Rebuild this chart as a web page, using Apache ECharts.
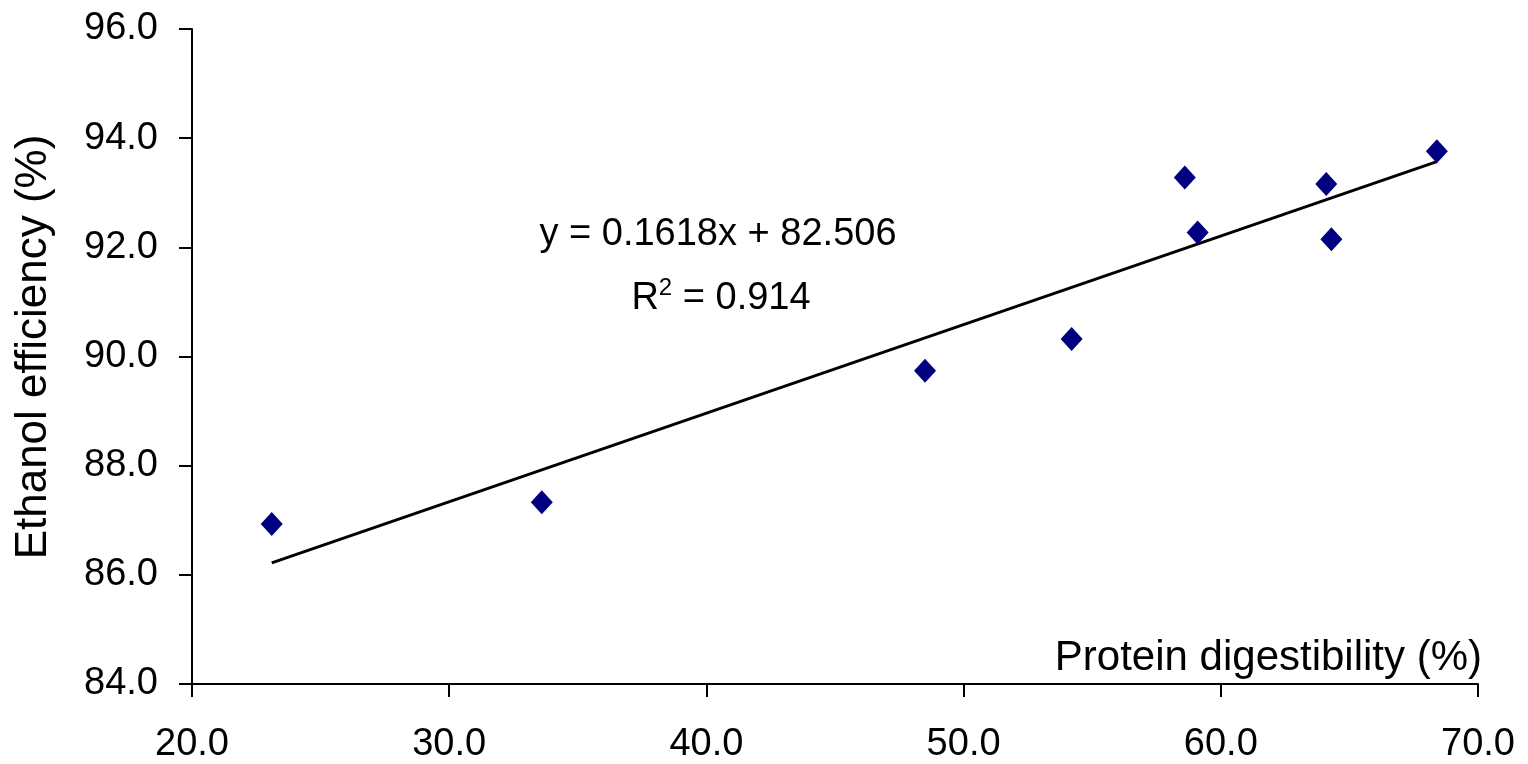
<!DOCTYPE html>
<html><head><meta charset="utf-8">
<script src="https://cdn.jsdelivr.net/npm/echarts@6/dist/echarts.min.js"></script>
<style>html,body{margin:0;padding:0;background:#fff}#c{width:1528px;height:764px}</style>
</head><body><div id="c"></div>
<script>
const proteinDigestibility = [23.1, 33.6, 48.5, 54.2, 58.6, 59.1, 64.1, 64.3, 68.4];
const ethanolEfficiency   = [86.93, 87.33, 89.74, 90.32, 93.28, 92.27, 93.16, 92.15, 93.76];
const trendX = [23.1, 68.4];
const trendY = [86.22, 93.57];
const xTicks = {min: 20, max: 70, interval: 10};
const yTicks = {min: 84, max: 96, interval: 2};
const equationText = 'y = 0.1618x + 82.506';
const r2Value = '0.914';
const xTitle = 'Protein digestibility (%)';
const yTitle = 'Ethanol efficiency (%)';

const font = 'Liberation Sans, Arial, sans-serif';
const chart = echarts.init(document.getElementById('c'), null, {renderer: 'canvas'});
const axisCommon = {
  axisLine: {show: true, onZero: false, lineStyle: {color: '#000', width: 2}},
  axisTick: {show: true, inside: false, length: 13, lineStyle: {color: '#000', width: 2}},
  splitLine: {show: false},
};
chart.setOption({
  animation: false,
  backgroundColor: '#fff',
  grid: {left: 192, right: 50, top: 29, bottom: 80, containLabel: false},
  xAxis: Object.assign({
    type: 'value', min: xTicks.min, max: xTicks.max, interval: xTicks.interval,
    axisLabel: {color: '#000', fontFamily: font, fontSize: 38, margin: 42, formatter: v => v.toFixed(1)},
    name: xTitle, nameLocation: 'end', nameGap: 4,
    nameTextStyle: {color: '#000', fontFamily: font, fontSize: 42, align: 'right', verticalAlign: 'bottom', padding: [0, 0, 5, 0]}
  }, axisCommon),
  yAxis: Object.assign({
    type: 'value', min: yTicks.min, max: yTicks.max, interval: yTicks.interval,
    axisLabel: {color: '#000', fontFamily: font, fontSize: 38, margin: 34, formatter: v => v.toFixed(1)}
  }, axisCommon),
  series: [
    {
      type: 'line',
      data: trendX.map((x, i) => [x, trendY[i]]),
      symbol: 'none',
      lineStyle: {color: '#000', width: 3},
      z: 2
    },
    {
      type: 'scatter',
      data: proteinDigestibility.map((x, i) => [x, ethanolEfficiency[i]]),
      symbol: 'diamond',
      symbolSize: [22, 24],
      itemStyle: {color: '#000080', opacity: 1},
      z: 3
    }
  ],
  graphic: [
    {type: 'text', x: 34, y: 347, rotation: Math.PI / 2, style: {text: yTitle, font: '44px ' + font, fill: '#000', textAlign: 'center', textVerticalAlign: 'middle'}},
    {type: 'text', x: 718, y: 235, style: {text: equationText, font: '38px ' + font, fill: '#000', textAlign: 'center', textVerticalAlign: 'middle'}},
    {type: 'text', x: 721, y: 297, style: {
      text: '{n|R}{s|2}{n| = ' + r2Value + '}',
      textAlign: 'center', textVerticalAlign: 'middle',
      rich: {n: {font: '38px ' + font, fill: '#000', verticalAlign: 'bottom'}, s: {font: '24px ' + font, fill: '#000', verticalAlign: 'top', padding: [0, 0, 18, 0]}}
    }}
  ]
});
</script></body></html>
